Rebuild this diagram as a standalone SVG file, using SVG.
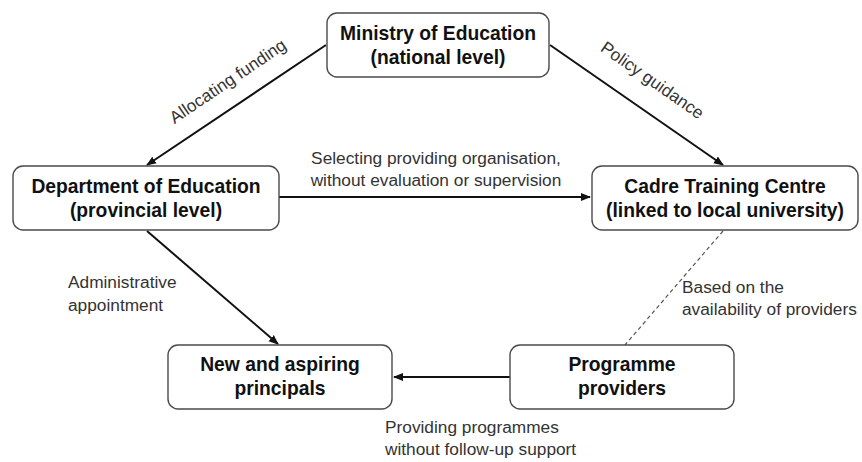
<svg xmlns="http://www.w3.org/2000/svg" width="862" height="462" viewBox="0 0 862 462">
<style>
.box{fill:#fff;stroke:#4a4a4a;stroke-width:1.4}
.bt{font-family:"Liberation Sans",Arial,sans-serif;font-weight:bold;font-size:19.3px;fill:#111;text-anchor:middle}
.lb{font-family:"Liberation Sans",Arial,sans-serif;font-size:17.3px;fill:#333}
.c{stroke:#111;stroke-width:2;fill:none}
.d{stroke:#555;stroke-width:1.2;fill:none;stroke-dasharray:4,3}
</style>
<defs>
<marker id="ah" viewBox="0 0 10 10" refX="9" refY="5" markerWidth="5" markerHeight="5" orient="auto" markerUnits="strokeWidth">
<path d="M0,1 L10,5 L0,9 z" fill="#111"/>
</marker>
</defs>
<rect width="862" height="462" fill="#fff"/>
<g id="connectors">
<line class="c" x1="326" y1="45" x2="147" y2="165" marker-end="url(#ah)"/>
<line class="c" x1="550" y1="45" x2="723" y2="165" marker-end="url(#ah)"/>
<line class="c" x1="279" y1="197" x2="590" y2="197" marker-end="url(#ah)"/>
<line class="c" x1="147" y1="231" x2="278" y2="344" marker-end="url(#ah)"/>
<line class="c" x1="510" y1="377" x2="394" y2="377" marker-end="url(#ah)"/>
<line class="d" x1="723" y1="231" x2="625" y2="345"/>
<text class="lb" transform="translate(231,86) rotate(-34)" text-anchor="middle">Allocating funding</text>
<text class="lb" transform="translate(649,85) rotate(35)" text-anchor="middle">Policy guidance</text>
<text class="lb" x="436" y="164" text-anchor="middle">Selecting providing organisation,</text>
<text class="lb" x="436" y="186" text-anchor="middle">without evaluation or supervision</text>
<text class="lb" x="68" y="288">Administrative</text>
<text class="lb" x="68" y="311">appointment</text>
<text class="lb" x="682" y="293">Based on the</text>
<text class="lb" x="682" y="315">availability of providers</text>
<text class="lb" x="385" y="433">Providing programmes</text>
<text class="lb" x="385" y="455">without follow-up support</text>
</g>
<g id="ministry">
<rect class="box" x="327" y="13" width="222" height="64" rx="10"/>
<text class="bt" x="438" y="40">Ministry of Education</text>
<text class="bt" x="438" y="64">(national level)</text>
</g>
<g id="department">
<rect class="box" x="13" y="166" width="266" height="64" rx="10"/>
<text class="bt" x="146" y="193">Department of Education</text>
<text class="bt" x="146" y="217">(provincial level)</text>
</g>
<g id="cadre">
<rect class="box" x="592" y="166" width="266" height="64" rx="10"/>
<text class="bt" x="725" y="193">Cadre Training Centre</text>
<text class="bt" x="725" y="217">(linked to local university)</text>
</g>
<g id="principals">
<rect class="box" x="168" y="345" width="224" height="64" rx="10"/>
<text class="bt" x="280" y="371">New and aspiring</text>
<text class="bt" x="280" y="395">principals</text>
</g>
<g id="providers">
<rect class="box" x="510" y="345" width="224" height="64" rx="10"/>
<text class="bt" x="622" y="371">Programme</text>
<text class="bt" x="622" y="395">providers</text>
</g>
</svg>
